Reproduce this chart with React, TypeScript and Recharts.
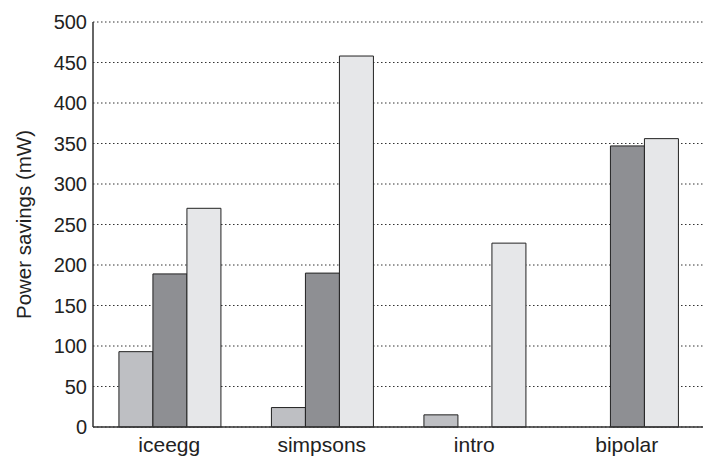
import React from 'react';
import { BarChart, Bar, XAxis, YAxis, CartesianGrid } from 'recharts';

const categories = ['iceegg', 'simpsons', 'intro', 'bipolar'];
const seriesA = [93, 24, 15, 0];
const seriesB = [189, 190, 0, 347];
const seriesC = [270, 458, 227, 356];
const yTicks = [0, 50, 100, 150, 200, 250, 300, 350, 400, 450, 500];

const data = categories.map((c, i) => ({ name: c, a: seriesA[i], b: seriesB[i], c: seriesC[i] }));

const FONT = '"Liberation Sans", Arial, Helvetica, sans-serif';

const YLabel = (props: any) => {
  const vb = props.viewBox || {};
  const cx = 23;
  const cy = (vb.y ?? 22) + (vb.height ?? 405) / 2;
  return (
    <text
      x={cx}
      y={cy}
      transform={`rotate(-90, ${cx}, ${cy})`}
      textAnchor="middle"
      dominantBaseline="central"
      fontFamily={FONT}
      fontSize={20.5}
      fill="#222"
    >
      Power savings (mW)
    </text>
  );
};

export default function App() {
  return (
    <div style={{ position: 'absolute', left: 0, top: 0, background: '#fff' }}>
      <BarChart
        width={703}
        height={458}
        data={data}
        margin={{ top: 22, right: 0, left: 0, bottom: 0 }}
        barCategoryGap="17%"
        barGap={0}
      >
        <CartesianGrid horizontal vertical={false} stroke="#333" strokeDasharray="1.5 2.5" />
        <XAxis
          dataKey="name"
          height={31}
          tickLine={false}
          tickSize={8}
          tickMargin={2}
          axisLine={{ stroke: '#333', strokeWidth: 1.5 }}
          tick={{ fill: '#222', fontSize: 21, fontFamily: FONT }}
        />
        <YAxis
          width={93}
          domain={[0, 500]}
          ticks={yTicks}
          interval={0}
          tickLine={false}
          tickSize={4}
          tickMargin={2}
          axisLine={{ stroke: '#333', strokeWidth: 1.5 }}
          tick={{ fill: '#222', fontSize: 20, fontFamily: FONT }}
          label={{ content: YLabel }}
        />
        <Bar dataKey="a" fill="#bebfc3" stroke="#222" strokeWidth={1} isAnimationActive={false} />
        <Bar dataKey="b" fill="#8e8f93" stroke="#222" strokeWidth={1} isAnimationActive={false} />
        <Bar dataKey="c" fill="#e6e7e9" stroke="#222" strokeWidth={1} isAnimationActive={false} />
      </BarChart>
    </div>
  );
}
